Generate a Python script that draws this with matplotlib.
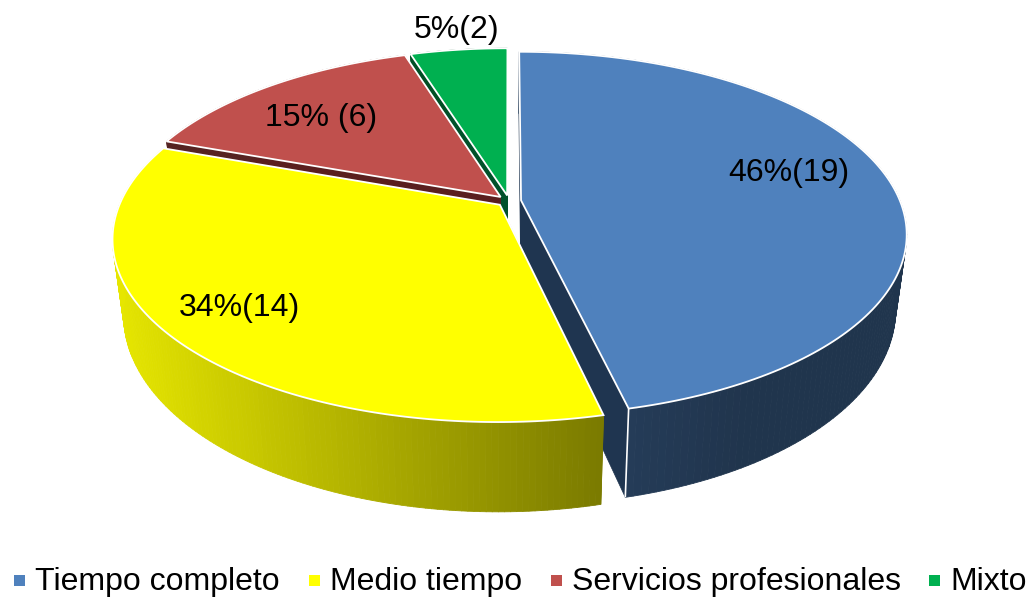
import matplotlib
matplotlib.use("Agg")
import matplotlib.pyplot as plt
import numpy as np
from matplotlib.collections import PolyCollection
from matplotlib.colors import to_rgb
from matplotlib.patches import Polygon, Rectangle

plt.rcParams["font.family"] = ["Liberation Sans", "DejaVu Sans"]

categories = ["Tiempo completo", "Medio tiempo", "Servicios profesionales", "Mixto"]
counts = [19, 14, 6, 2]
slice_labels = ["46%(19)", "34%(14)", "15% (6)", "5%(2)"]
colors = ["#4f81bd", "#ffff00", "#c0504d", "#00b050"]
cut_colors = ["#1f3550", "#7f7f00", "#5a1f1f", "#00512a"]
# shade of the outer wall at left and right end of the pie
wall_shades = [(0.47, 0.41), (0.90, 0.48), (0.45, 0.35), (0.45, 0.35)]

label_pos = [(789, 173), (239, 308), (321, 118), (457, 30)]
legend_text_x = [35, 330, 572, 950]
legend_mark_x = [14, 309, 551, 929]

CX, CY = 509.0, 201.0
RX, H = 379.0, 176.0
K = 0.183
DEPTH = 73.0
SHRINK = 0.972
EXPLODE = 0.032


def project(u, v):
    w = 1 + K * v
    return CX + RX * u / w, CY - H * v / w


def lower(x, y, v):
    w = 1 + K * v
    return CX + (x - CX) * SHRINK, y + DEPTH / w


def draw_slice(ax, start, end, color, cut_color, shades):
    mid = 0.5 * (start + end)
    ou, ov = EXPLODE * np.sin(mid), EXPLODE * np.cos(mid)
    th = np.linspace(start, end, 160)
    u = ou + np.sin(th)
    v = ov + np.cos(th)
    x, y = project(u, v)
    xb, yb = lower(x, y, v)
    ax_, ay_ = project(ou, ov)
    bx_, by_ = lower(ax_, ay_, ov)

    # cut faces along both radial edges
    for i in (0, -1):
        ax.add_patch(Polygon([(ax_, ay_), (x[i], y[i]), (xb[i], yb[i]), (bx_, by_)],
                             closed=True, fc=cut_color, ec=cut_color, lw=0.5, zorder=2))

    # outer wall, one quad per step so it can carry the gradient
    quads = []
    quad_colors = []
    base = np.array(to_rgb(color))
    for i in range(len(th) - 1):
        quads.append([(x[i], y[i]), (x[i + 1], y[i + 1]), (xb[i + 1], yb[i + 1]), (xb[i], yb[i])])
        t = np.clip((x[i] - 115) / (605 - 115), 0, 1) if color == "#ffff00" else np.clip((x[i] - 625) / 120, 0, 1)
        quad_colors.append(base * (shades[0] + (shades[1] - shades[0]) * t))
    ax.add_collection(PolyCollection(quads, facecolors=quad_colors, edgecolors=quad_colors,
                                     linewidths=0.6, zorder=2))
    # corner lines of the wall
    ax.plot([x[-1], xb[-1]], [y[-1], yb[-1]], color="white", lw=1.2, zorder=2, solid_capstyle="butt")

    top = list(zip(x, y)) + [(ax_, ay_)]
    ax.add_patch(Polygon(top, closed=True, fc=color, ec="white", lw=1.3, zorder=2))


def main():
    fig = plt.figure(figsize=(10.31, 5.99), dpi=100)
    ax = fig.add_axes([0, 0, 1, 1])
    ax.set_xlim(0, 1031)
    ax.set_ylim(599, 0)
    ax.axis("off")

    edges = 2 * np.pi * np.concatenate([[0], np.cumsum(counts)]) / np.sum(counts)
    # back slices first, yellow last because it covers the blue cut face
    for i in [3, 2, 0, 1]:
        draw_slice(ax, edges[i], edges[i + 1], colors[i], cut_colors[i], wall_shades[i])

    for text, (px, py) in zip(slice_labels, label_pos):
        ax.text(px, py, text, fontsize=23, ha="center", va="center", color="black", zorder=5)

    for i, name in enumerate(categories):
        ax.add_patch(Rectangle((legend_mark_x[i], 575), 11, 11, fc=colors[i], ec="none"))
        ax.text(legend_text_x[i], 582, name, fontsize=23, ha="left", va="center", color="black")

    fig.savefig("out.png", dpi=100)
    plt.close(fig)


if __name__ == "__main__":
    main()
